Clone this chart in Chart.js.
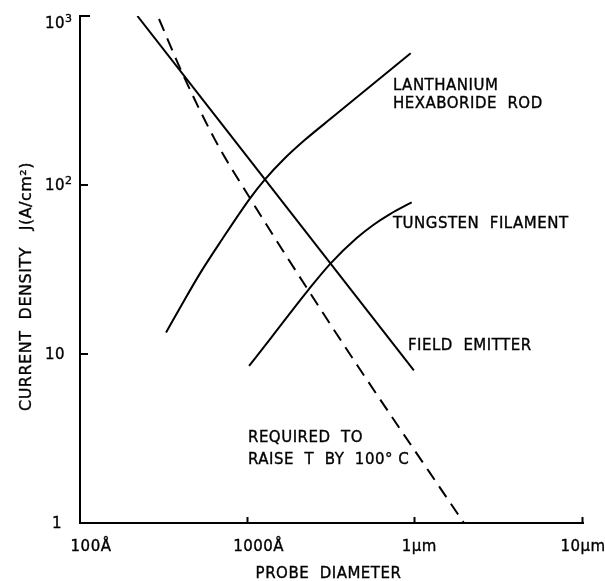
<!DOCTYPE html>
<html>
<head>
<meta charset="utf-8">
<script src="https://cdn.jsdelivr.net/npm/chart.js@4/dist/chart.umd.min.js"></script>
<style>
  html, body { margin: 0; padding: 0; background: #fff; }
  canvas { display: block; }
</style>
</head>
<body>
<canvas id="chart" width="605" height="581"></canvas>
<script>
// Probe diameter in µm, current density J in A/cm².

// Axis decades and their labels
const xTickValues = [0.01, 0.1, 1, 10];
const xTickLabels = ['100Å', '1000Å', '1µm', '10µm'];
const yTickValues = [1, 10, 100, 1000];
const yTickBase = ['1', '10', '10', '10'];
const yTickExp = ['', '', '2', '3'];

// Lanthanum hexaboride rod
const lab6Diameter = [0.0326, 0.0399, 0.052, 0.070, 0.1033, 0.1269, 0.1631, 0.2197, 0.3241, 0.5885, 0.938];
const lab6Density = [13.4, 19.1, 30.0, 47.3, 83.4, 108, 141, 185, 254, 412, 602];

// Tungsten filament
const tungstenDiameter = [0.102, 0.139, 0.2296, 0.3126, 0.447, 0.561, 0.706, 0.951];
const tungstenDensity = [8.5, 12.6, 23.9, 34.4, 48.5, 58.0, 67.3, 79.0];

// Field emitter
const fieldDiameter = [0.022, 0.98];
const fieldDensity = [1000, 8];

// Density required to raise T by 100 °C
const heatingDiameter = [0.0296, 0.0404, 0.0639, 0.1033, 0.2296, 0.4565, 1.949];
const heatingDensity = [960, 468, 185, 83.4, 23.9, 8.41, 1.0];

// Curve captions: text lines with their anchor (diameter, density at baseline)
const captionText = ['LANTHANIUM', 'HEXABORIDE  ROD', 'TUNGSTEN  FILAMENT', 'FIELD  EMITTER', 'REQUIRED  TO', 'RAISE  T  BY  100° C'];
const captionDiameter = [0.735, 0.735, 0.735, 0.903, 0.1004, 0.1004];
const captionDensity = [365, 286, 55.7, 10.5, 3.01, 2.22];

const xTitle = 'PROBE  DIAMETER';
const yTitle = 'CURRENT  DENSITY   J(A/cm²)';

const INK = '#000';
const FONT = '"DejaVu Sans", "Liberation Sans", sans-serif';

function pairs(xs, ys) {
  return xs.map((v, i) => ({ x: v, y: ys[i] }));
}

function curve(xs, ys, dash) {
  return {
    data: pairs(xs, ys),
    borderColor: INK,
    borderWidth: 2,
    borderDash: dash || [],
    pointRadius: 0,
    fill: false,
    cubicInterpolationMode: 'monotone'
  };
}

// Lettering with a faint outline so it reads like pen strokes
function letter(ctx, text, px, py) {
  ctx.fillText(text, px, py);
  ctx.strokeText(text, px, py);
}

// Draws inward tick marks, tick lettering, axis titles and curve captions
const lettering = {
  id: 'lettering',
  afterDraw(chart) {
    const { ctx, chartArea: a, scales: { x, y } } = chart;
    ctx.save();
    ctx.strokeStyle = INK;
    ctx.fillStyle = INK;
    ctx.lineWidth = 2;
    ctx.lineCap = 'butt';

    // tick marks pointing into the plot
    ctx.beginPath();
    xTickValues.slice(1).forEach(v => {
      const px = Math.round(x.getPixelForValue(v)) - 0.5;
      ctx.moveTo(px, a.bottom);
      ctx.lineTo(px, a.bottom - 6);
    });
    yTickValues.slice(1).forEach((v, i) => {
      const py = Math.round(y.getPixelForValue(v));
      ctx.moveTo(a.left, py);
      ctx.lineTo(a.left + (i === 2 ? 10 : 8), py);
    });
    ctx.stroke();

    ctx.lineWidth = 0.35;
    ctx.letterSpacing = '0.5px';
    ctx.textBaseline = 'alphabetic';

    // x tick labels
    const xLabelShift = [11, 11, 4, 0];
    ctx.font = '15px ' + FONT;
    ctx.textAlign = 'center';
    xTickValues.forEach((v, i) => {
      letter(ctx, xTickLabels[i], x.getPixelForValue(v) + xLabelShift[i], a.bottom + 28);
    });

    // y tick labels with exponents
    const yLabelDrop = [5, 5, 5, 12];
    yTickValues.forEach((v, i) => {
      const py = y.getPixelForValue(v) + yLabelDrop[i];
      ctx.font = '15px ' + FONT;
      ctx.textAlign = 'left';
      const left = yTickBase[i].length === 1 ? 52 : 45;
      letter(ctx, yTickBase[i], left, py);
      if (yTickExp[i]) {
        const w = ctx.measureText(yTickBase[i]).width;
        ctx.font = '11px ' + FONT;
        letter(ctx, yTickExp[i], left + w, py - 6);
      }
    });

    // axis titles
    ctx.font = '15px ' + FONT;
    ctx.textAlign = 'center';
    letter(ctx, xTitle, (x.getPixelForValue(0.1) + x.getPixelForValue(1)) / 2 - 3, a.bottom + 55);
    ctx.save();
    ctx.font = '16px ' + FONT;
    ctx.translate(31, (a.top + a.bottom) / 2 + 17);
    ctx.rotate(-Math.PI / 2);
    letter(ctx, yTitle, 0, 0);
    ctx.restore();

    // captions beside the curves
    ctx.textAlign = 'left';
    captionText.forEach((t, i) => {
      letter(ctx, t, x.getPixelForValue(captionDiameter[i]), y.getPixelForValue(captionDensity[i]));
    });

    ctx.restore();
  }
};

new Chart(document.getElementById('chart'), {
  type: 'line',
  data: {
    datasets: [
      curve(lab6Diameter, lab6Density),
      curve(tungstenDiameter, tungstenDensity),
      curve(fieldDiameter, fieldDensity),
      curve(heatingDiameter, heatingDensity, [13, 8])
    ]
  },
  options: {
    responsive: false,
    animation: false,
    events: [],
    layout: { padding: { left: 80, right: 22, top: 16, bottom: 58 } },
    plugins: {
      legend: { display: false },
      tooltip: { enabled: false },
      title: { display: false }
    },
    scales: {
      x: {
        type: 'logarithmic',
        min: 0.01,
        max: 10,
        grid: { display: false, drawTicks: false },
        ticks: { display: false },
        border: { display: true, color: INK, width: 2 }
      },
      y: {
        type: 'logarithmic',
        min: 1,
        max: 1000,
        grid: { display: false, drawTicks: false },
        ticks: { display: false },
        border: { display: true, color: INK, width: 2 }
      }
    }
  },
  plugins: [lettering]
});
</script>
</body>
</html>
